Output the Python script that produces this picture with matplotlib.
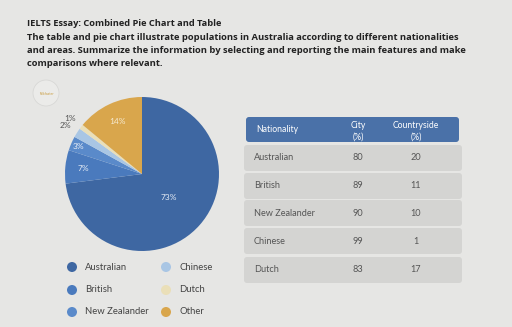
import matplotlib.pyplot as plt
import numpy as np
from matplotlib.patches import FancyBboxPatch, Circle

# Data
##################################################################
title = "IELTS Essay: Combined Pie Chart and Table"
prompt = ["The table and pie chart illustrate populations in Australia according to different nationalities",
          "and areas. Summarize the information by selecting and reporting the main features and make",
          "comparisons where relevant."]

groups = ["Australian", "British", "New Zealander", "Chinese", "Dutch", "Other"]
shares = [73, 7, 3, 2, 1, 14]
colors = ["#3e67a2", "#4a7abd", "#5a8aca", "#a9c6e4", "#eadfb8", "#d9a64c"]
label_dist = [0.46, 0.77, 0.9, 1.17, 1.18, 0.75]
label_col = ["#e8eef6", "#e8eef6", "#e8eef6", "#555555", "#555555", "#f6ead0"]

nationalities = ["Australian", "British", "New Zealander", "Chinese", "Dutch"]
city = [80, 89, 90, 99, 83]
countryside = [20, 11, 10, 1, 17]

# Figure
##################################################################
W, H = 512, 327
fig = plt.figure(figsize=(W / 100, H / 100), dpi=100)
fig.patch.set_facecolor("#e6e6e4")

bg = fig.add_axes([0, 0, 1, 1])
bg.set_xlim(0, W)
bg.set_ylim(H, 0)
bg.axis("off")

# texto do enunciado
bg.text(27, 24, title, fontsize=6.7, fontweight="bold", family="Open Sans",
        color="#222222", va="center")
for i, linha in enumerate(prompt):
    bg.text(27, 38 + 12.5 * i, linha, fontsize=6.75, fontweight="bold",
            family="Open Sans", color="#222222", va="center")

# logo
bg.add_patch(Circle((46, 93), 13, facecolor="#ebebe9", edgecolor="#d8d8d6", lw=0.6))
bg.text(46, 94, "Talkfaster", fontsize=2.2, color="#c89a3a", ha="center", va="center")

# pizza
cx, cy, r = 142, 174, 77
ax = fig.add_axes([(cx - r) / W, (H - cy - r) / H, 2 * r / W, 2 * r / H])
wedges, _ = ax.pie(shares, colors=colors, startangle=90, counterclock=False,
                   wedgeprops=dict(linewidth=0))
ax.set_xlim(-1, 1)
ax.set_ylim(-1, 1)
ax.set_aspect("auto")
ax.axis("off")

for w, s, d, c in zip(wedges, shares, label_dist, label_col):
    ang = np.deg2rad((w.theta1 + w.theta2) / 2)
    ax.text(d * np.cos(ang), d * np.sin(ang), f"{s}%", fontsize=6,
            family="Lato", color=c, ha="center", va="center")

# legenda
leg_x = [72, 166]
leg_y = [267, 290, 312]
for i, (g, c) in enumerate(zip(groups, colors)):
    x = leg_x[i // 3]
    y = leg_y[i % 3]
    bg.add_patch(Circle((x, y), 5, facecolor=c, edgecolor="none"))
    bg.text(x + 13, y, g, fontsize=6.8, family="Lato", color="#444444", va="center")

# tabela
bg.add_patch(FancyBboxPatch((246, 117), 213, 25, boxstyle="round,pad=0,rounding_size=3",
                            facecolor="#4a71a8", edgecolor="none"))
bg.text(256, 130, "Nationality", fontsize=6.2, family="Lato", color="white", va="center")
bg.text(358, 125, "City", fontsize=6.2, family="Lato", color="white", ha="center", va="center")
bg.text(358, 137, "(%)", fontsize=6.2, family="Lato", color="white", ha="center", va="center")
bg.text(416, 125, "Countryside", fontsize=6.2, family="Lato", color="white", ha="center", va="center")
bg.text(416, 137, "(%)", fontsize=6.2, family="Lato", color="white", ha="center", va="center")

row_top = [145, 173, 200, 228, 257]
for top, nat, c1, c2 in zip(row_top, nationalities, city, countryside):
    bg.add_patch(FancyBboxPatch((244, top), 218, 26, boxstyle="round,pad=0,rounding_size=3",
                                facecolor="#d4d4d2", edgecolor="none"))
    yc = top + 13
    bg.text(254, yc, nat, fontsize=6.6, family="Lato", color="#555555", va="center")
    bg.text(358, yc, str(c1), fontsize=6.6, family="Lato", color="#555555", ha="center", va="center")
    bg.text(416, yc, str(c2), fontsize=6.6, family="Lato", color="#555555", ha="center", va="center")

fig.savefig("out.png", dpi=100, facecolor=fig.get_facecolor())
